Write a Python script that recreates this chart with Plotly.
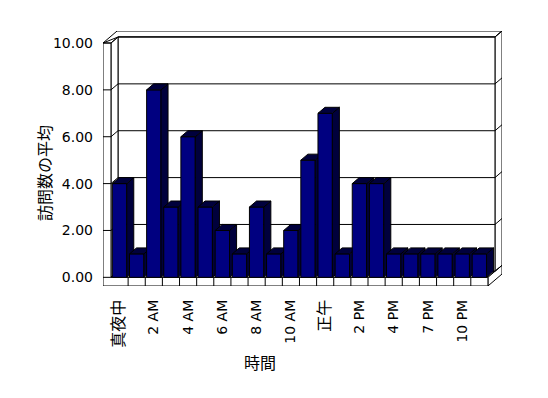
import plotly.graph_objects as go

# ---- data ----
categories = ["真夜中", "1 AM", "2 AM", "3 AM", "4 AM", "5 AM", "6 AM", "7 AM",
              "8 AM", "9 AM", "10 AM", "11 AM", "正午", "1 PM", "2 PM", "3 PM",
              "4 PM", "5 PM", "7 PM", "8 PM", "10 PM", "11 PM"]
values = [4, 1, 8, 3, 6, 3, 2, 1, 3, 1, 2, 5, 7, 1, 4, 4, 1, 1, 1, 1, 1, 1]
y_ticks = [0, 2, 4, 6, 8, 10]
x_title = "時間"
y_title = "訪問数の平均"

# ---- 3D geometry (data units) ----
DX, DY = 0.41, 0.256          # depth offset of one "slab"
U0, U1 = -0.5, len(values) - 0.5
UL = U0 - 0.466               # left wall outer
VB = -0.37                    # floor bottom
VT = 10                       # wall top
BW = 0.42                     # half bar width
NAVY = "#000080"
DARK = "#00003c"


def P(u, v, d=0.0):
    return (u + d * DX, v + d * DY)


def path(pts, close=True):
    s = "M " + " L ".join(f"{x:.4f},{y:.4f}" for x, y in pts)
    return s + (" Z" if close else "")


shapes = []


def add(pts, fill="white", close=True):
    shapes.append(dict(type="path", path=path(pts, close), xref="x", yref="y",
                       line=dict(color="black", width=1),
                       fillcolor=fill if close else None, layer="below"))


# back wall top face
add([P(UL, VT, 2), P(U1, VT, 2), P(U1, VT, 1), P(U0, VT, 1), P(UL, VT, 0)])
# back wall right end face
add([P(U1, VT, 1), P(U1, VT, 2), P(U1, 0, 2), P(U1, 0, 1)])
# back wall inner face
add([P(U0, 0, 1), P(U0, VT, 1), P(U1, VT, 1), P(U1, 0, 1)])
# left wall inner face
add([P(U0, 0, 0), P(U0, VT, 0), P(U0, VT, 1), P(U0, 0, 1)])
# floor top
add([P(U0, 0, 0), P(U0, 0, 1), P(U1, 0, 1), P(U1, 0, 0)])
# floor right face
add([P(U1, 0, 0), P(U1, 0, 2), P(U1, VB, 2), P(U1, VB, 0)])
# left wall front + floor front (L shape)
add([P(UL, VT), P(U0, VT), P(U0, 0), P(U1, 0), P(U1, VB), P(UL, VB)])
# floor dividers
for i in range(len(values) - 1):
    add([P(i + 0.5, 0), P(i + 0.5, VB)], close=False)
# gridlines across walls
for v in y_ticks:
    add([P(UL, v), P(U0, v), P(U0, v, 1), P(U1, v, 1), P(U1, v, 2)], close=False)

fig = go.Figure()
for i, h in enumerate(values):
    faces = [
        ([P(i - BW, 0), P(i + BW, 0), P(i + BW, h), P(i - BW, h)], NAVY),
        ([P(i + BW, 0), P(i + BW, 0, 1), P(i + BW, h, 1), P(i + BW, h)], DARK),
        ([P(i - BW, h), P(i + BW, h), P(i + BW, h, 1), P(i - BW, h, 1)], DARK),
    ]
    for k, (pts, col) in enumerate(faces):
        xs = [p[0] for p in pts] + [pts[0][0]]
        ys = [p[1] for p in pts] + [pts[0][1]]
        fig.add_trace(go.Scatter(
            x=xs, y=ys, mode="lines", fill="toself", fillcolor=col,
            line=dict(color="black", width=1),
            hoverinfo="text" if k == 0 else "skip",
            text=f"{categories[i]}: {h:.2f}", showlegend=False))


def lab(s):
    if any(ord(c) > 0x3000 for c in s):
        return f"<span style='font-size:16px'>{s}</span>"
    return s


tick_idx = list(range(0, len(values), 2))
FONT = "DejaVu Sans, Noto Sans CJK JP"
fig.update_layout(
    width=548, height=398,
    margin=dict(l=103, r=46, t=31, b=112, pad=0),
    paper_bgcolor="white", plot_bgcolor="white",
    shapes=shapes, showlegend=False,
    font=dict(family=FONT, size=14, color="black"),
    xaxis=dict(range=[UL, U1 + 2 * DX], tickmode="array", tickvals=tick_idx,
               ticktext=[lab(categories[i]) for i in tick_idx], tickangle=-90,
               tickfont=dict(family=FONT, size=14, color="black"),
               showgrid=False, zeroline=False, showline=False, ticks="",
               ticklabelstandoff=10, fixedrange=True),
    yaxis=dict(range=[VB, VT + 2 * DY], tickmode="array", tickvals=y_ticks,
               ticktext=[f"{v:.2f}" for v in y_ticks],
               tickfont=dict(family=FONT, size=14, color="black"),
               showgrid=False, zeroline=False, showline=False, ticks="",
               ticklabelstandoff=9, fixedrange=True),
    annotations=[
        dict(text=x_title, xref="paper", yref="paper", x=(259.5 - 103) / 399,
             y=(286 - 376) / 255, showarrow=False,
             font=dict(family="Noto Sans CJK JP", size=16, color="black")),
        dict(text=y_title, xref="paper", yref="paper", x=(30 - 103) / 399,
             y=(286 - 173) / 255, showarrow=False, textangle=-90,
             font=dict(family="Noto Sans CJK JP", size=16, color="black")),
    ],
)

fig.write_html("out.html")
